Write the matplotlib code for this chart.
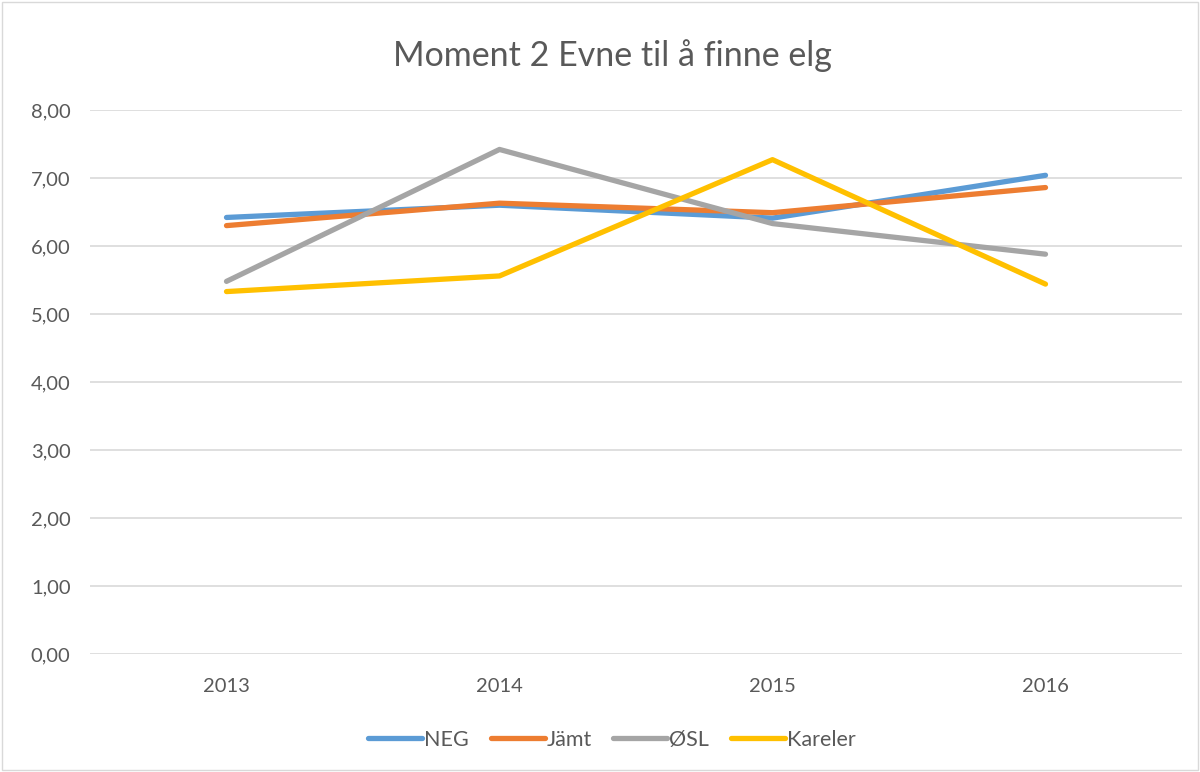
import matplotlib.pyplot as plt
from matplotlib.patches import Rectangle

plt.rcParams['font.family'] = ['Lato', 'DejaVu Sans']

years = ['2013', '2014', '2015', '2016']
neg = [6.42, 6.60, 6.41, 7.04]
jamt = [6.30, 6.63, 6.49, 6.86]
osl = [5.48, 7.42, 6.33, 5.88]
kareler = [5.33, 5.56, 7.27, 5.44]

series = [('NEG', neg, '#5B9BD5'), ('Jämt', jamt, '#ED7D31'),
          ('ØSL', osl, '#A5A5A5'), ('Kareler', kareler, '#FFC000')]

fig = plt.figure(figsize=(12, 7.72), dpi=100)
ax = fig.add_axes([0.075, 0.1528, 0.91, 0.7047])

x = range(len(years))
for name, vals, col in series:
    ax.plot(x, vals, color=col, lw=3.8, label=name, solid_capstyle='round')

ax.set_xlim(-0.5, 3.5)
ax.set_ylim(0, 8)
ax.set_xticks(list(x))
ax.set_xticklabels(years)
ax.set_yticks(range(9))
ax.set_yticklabels(['%d,00' % v for v in range(9)])
ax.tick_params(length=0, labelsize=14.5, colors='#595959')
ax.tick_params(axis='x', pad=17)
ax.tick_params(axis='y', pad=14)
ax.grid(axis='y', color='#D9D9D9', lw=1.2)
ax.set_axisbelow(True)
for s in ax.spines.values():
    s.set_visible(False)

fig.text(0.51, 0.928, 'Moment 2 Evne til å finne elg', ha='center', va='center',
         fontsize=24.5, color='#595959')

leg = fig.legend(loc='center', bbox_to_anchor=(0.51, 0.042), ncol=4, frameon=False,
                 fontsize=15.5, handlelength=2.5, handletextpad=0.1, columnspacing=1.0)
for t in leg.get_texts():
    t.set_color('#595959')

fig.patches.append(Rectangle((0.002, 0.002), 0.996, 0.996, transform=fig.transFigure,
                             fill=False, ec='#D9D9D9', lw=1))

fig.savefig('out.png', dpi=100)
